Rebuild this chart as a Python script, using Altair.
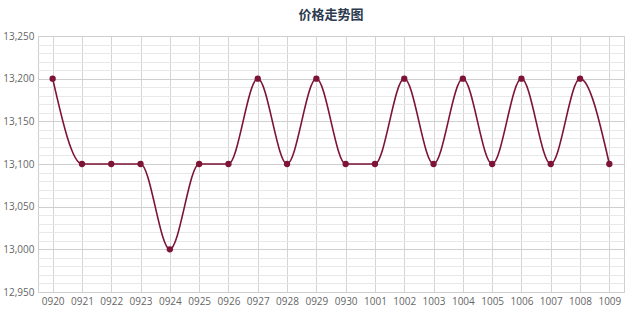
import altair as alt
import pandas as pd

dates = ["0920", "0921", "0922", "0923", "0924", "0925", "0926", "0927", "0928", "0929",
         "0930", "1001", "1002", "1003", "1004", "1005", "1006", "1007", "1008", "1009"]
prices = [13200, 13100, 13100, 13100, 13000, 13100, 13100, 13200, 13100, 13200,
          13100, 13100, 13200, 13100, 13200, 13100, 13200, 13100, 13200, 13100]
y_ticks = list(range(12950, 13251, 10))

df = pd.DataFrame({"date": dates, "price": prices})

color = "#7d1435"

x = alt.X("date:N", sort=dates, title=None,
          scale=alt.Scale(paddingInner=0, paddingOuter=0),
          axis=alt.Axis(labelAngle=0, labelFontSize=10, labelColor="#666", labelFont="Open Sans",
                        grid=True, gridColor="#d4d4d4", bandPosition=0, ticks=False,
                        domain=False, labelPadding=4))
y = alt.Y("price:Q", title=None,
          scale=alt.Scale(domain=[12950, 13250], nice=False, zero=False),
          axis=alt.Axis(values=y_ticks,
                        labelExpr="datum.value % 50 === 0 ? format(datum.value, ',') : ''",
                        labelFontSize=10, labelColor="#666", labelFont="Open Sans",
                        gridColor={"condition": {"test": "datum.value % 50 === 0", "value": "#cfcfcf"},
                                   "value": "#e8e8e8"},
                        ticks=False, domain=False, labelPadding=4))

base = alt.Chart(df)
line = base.mark_line(interpolate="monotone", color=color, strokeWidth=1.6).encode(x=x, y=y)
pts = base.mark_point(filled=True, color=color, size=40, opacity=1).encode(x=x, y=y)

chart = (line + pts).properties(
    width=586, height=256,
    title=alt.TitleParams("价格走势图", font="Noto Sans CJK SC", fontSize=13, fontWeight="bold",
                          color="#2b3a4e", offset=9),
    padding={"left": 38, "top": 36, "right": 16, "bottom": 28},
    autosize="none",
).configure_view(stroke="#cfcfcf")

chart.save("out.html", embed_options={"renderer": "svg", "actions": False})
